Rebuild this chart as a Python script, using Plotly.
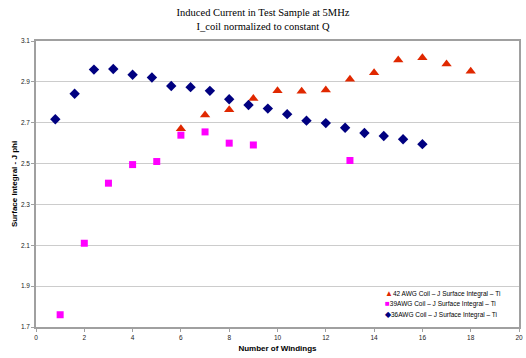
import plotly.graph_objects as go

# 36AWG coil (navy diamonds)
x36 = [0.8, 1.6, 2.4, 3.2, 4.0, 4.8, 5.6, 6.4, 7.2, 8.0, 8.8, 9.6, 10.4, 11.2, 12.0, 12.8, 13.6, 14.4, 15.2, 16.0]
y36 = [2.717, 2.842, 2.960, 2.963, 2.935, 2.921, 2.880, 2.874, 2.856, 2.815, 2.787, 2.769, 2.742, 2.710, 2.698, 2.675, 2.650, 2.635, 2.619, 2.595]

# 39AWG coil (magenta squares)
x39 = [1, 2, 3, 4, 5, 6, 7, 8, 9, 13]
y39 = [1.760, 2.110, 2.404, 2.495, 2.510, 2.639, 2.655, 2.600, 2.591, 2.515]

# 42 AWG coil (red triangles)
x42 = [6, 7, 8, 9, 10, 11, 12, 13, 14, 15, 16, 17, 18]
y42 = [2.670, 2.738, 2.763, 2.818, 2.857, 2.854, 2.860, 2.913, 2.945, 3.007, 3.018, 2.988, 2.952]

names = ["42 AWG Coil \u2013 J Surface Integral \u2013 Ti",
         "39AWG Coil \u2013 J Surface Integral \u2013 Ti",
         "36AWG Coil \u2013 J Surface Integral \u2013 Ti"]
colors = ["#E02800", "#FF00FF", "#000080"]
symbols_txt = ["\u25B2", "\u25A0", "\u25C6"]

fig = go.Figure()
fig.add_trace(go.Scatter(x=x42, y=y42, mode="markers", name=names[0],
                         marker=dict(symbol="triangle-up", size=9, color=colors[0])))
fig.add_trace(go.Scatter(x=x39, y=y39, mode="markers", name=names[1],
                         marker=dict(symbol="square", size=7, color=colors[1])))
fig.add_trace(go.Scatter(x=x36, y=y36, mode="markers", name=names[2],
                         marker=dict(symbol="diamond", size=8, color=colors[2])))

legend_y = [0.117, 0.081, 0.044]
for nm, c, s, yy in zip(names, colors, symbols_txt, legend_y):
    fig.add_annotation(
        xref="paper", yref="paper", x=0.718, y=yy, xanchor="left", yanchor="middle",
        showarrow=False,
        text=f"<span style='color:{c};font-size:8px'>{s}</span>{nm}",
        font=dict(family="Liberation Sans, Arial", size=6.5, color="#000000"),
    )

fig.update_layout(
    width=526, height=358,
    margin=dict(l=36, r=3, t=41, b=31),
    paper_bgcolor="white", plot_bgcolor="white",
    showlegend=False,
    title=dict(text="Induced Current in Test Sample at 5MHz<br>I_coil normalized to constant Q",
               x=0.5, xanchor="center", y=0.954, yanchor="top",
               font=dict(family="Liberation Serif, Times New Roman", size=10.5, color="#000000")),
    font=dict(family="Liberation Sans, Arial", size=7, color="#000000"),
)
fig.update_xaxes(range=[0, 20], dtick=2, tick0=0, showgrid=False, zeroline=False,
                 showline=True, linecolor="#a0a0a0", linewidth=1.5, mirror=True,
                 ticks="outside", ticklen=3, tickcolor="#a0a0a0",
                 tickfont=dict(size=6.5, color="#222222"),
                 title=dict(text="<b>Number of Windings</b>", font=dict(size=8), standoff=6))
fig.update_yaxes(range=[1.7, 3.1], dtick=0.2, tick0=1.7, tickformat=".1f",
                 showgrid=True, gridcolor="#cccccc", gridwidth=1, zeroline=False,
                 showline=True, linecolor="#a0a0a0", linewidth=1.5, mirror=True,
                 ticks="outside", ticklen=3, tickcolor="#a0a0a0",
                 tickfont=dict(size=6.5, color="#222222"),
                 title=dict(text="<b>Surface Integral - J phi</b>", font=dict(size=8), standoff=2))

fig.write_html("out.html")
